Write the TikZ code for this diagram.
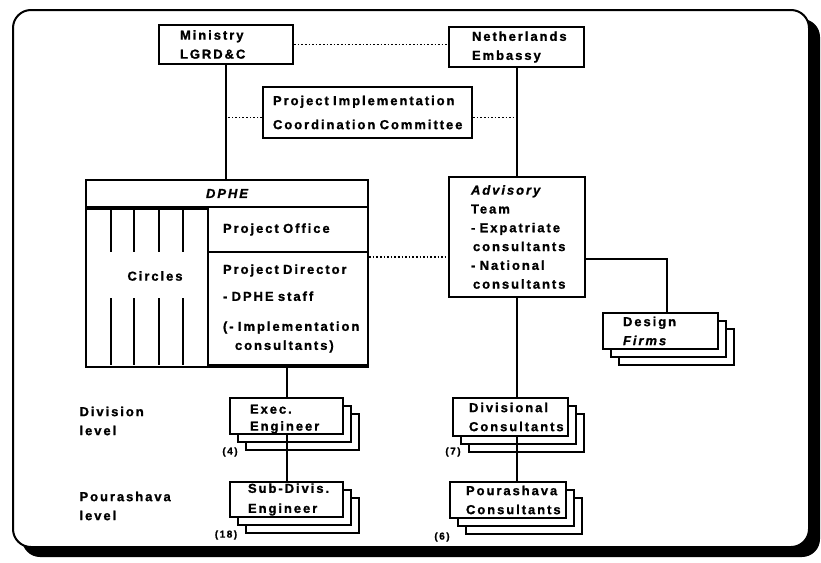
\documentclass[tikz,border=0pt]{standalone}
\usepackage{fontspec}
\setmainfont{Liberation Sans}[LetterSpace=15, BoldFeatures={FakeBold=1.2}, BoldItalicFeatures={FakeBold=1.2}]
\usetikzlibrary{shadows}

\begin{document}
\begin{tikzpicture}[
    x=1pt, y=-1pt,
    every node/.style={
        font=\fontsize{13}{19}\selectfont\bfseries
    },
    box/.style={
        draw,
        fill=white,
        line width=2.2pt,
        align=left,
        inner ysep=0pt
    },
    stack/.style={
        box,
        double copy shadow={shadow xshift=8pt, shadow yshift=-8pt, line width=2.2pt}
    },
    link/.style={
        line width=2pt
    },
    dotlink/.style={
        line width=1.6pt,
        dash pattern=on 1.6pt off 2pt
    },
    strip/.style={
        line width=1.8pt
    },
    count/.style={
        font=\fontsize{10}{12}\selectfont\bfseries
    }
]
\useasboundingbox (0,0) rectangle (821,562);

% outer frame
\fill[rounded corners=18pt] (22,19) rectangle (820,557);
\draw[fill=white, line width=2pt, rounded corners=18pt] (13,10) rectangle (809,547);

% top level
\node[box, minimum height=39pt, text width=92pt, inner xsep=21pt] (min) at (226,44.5) {Ministry\\LGRD\&C};
\node[box, minimum height=40pt, text width=89pt, inner xsep=23pt] (emb) at (516.5,47) {Netherlands\\Embassy};
\node[box, minimum height=51pt, text width=199pt, inner xsep=5pt,
      font=\fontsize{13}{24}\selectfont\bfseries] (pic) at (367.5,112.5)
    {\hspace*{5pt}Project~Implementation\\\hspace*{5pt}Coordination~Committee};

% DPHE
\node[box, minimum width=282pt, minimum height=27pt, font=\fontsize{13}{19}\selectfont\bfseries\itshape] (dphe) at (227,193.5) {DPHE};
\node[box, anchor=north, minimum width=282pt, minimum height=158pt] (body) at (dphe.south) {};
\node[box, minimum height=45pt, text width=130pt, inner xsep=15pt] (office) at (288,229.5) {Project~Office};
\node[box, minimum height=113pt, text width=130pt, inner xsep=15pt] (director) at (288,308.5)
    {Project~Director\\[8pt]-~DPHE~staff\\[11pt](-~Implementation\\\hspace*{12pt}consultants)};
\node (circ) at (155,276) {Circles};
\foreach \x in {111,134,159,183}
    \draw[strip] (\x,207) -- (\x,252) (\x,298) -- (\x,365);

% advisory team
\node[box, minimum height=120pt, text width=92pt, inner xsep=22pt,
      font=\fontsize{13}{18.8}\selectfont\bfseries] (adv) at (517,237)
    {\textit{Advisory}\\Team\\-~Expatriate\\\hspace*{2pt}consultants\\-~National\\\hspace*{2pt}consultants};
\node[stack, minimum height=36pt, text width=75pt, inner xsep=20pt] (des) at (660.5,331) {Design\\\textit{Firms}};

% division and pourashava level
\node[anchor=west, align=left] (divlev) at (76,421) {Division\\level};
\node[anchor=west, align=left] (poulev) at (76,506) {Pourashava\\level};

\node[stack, minimum height=36pt, text width=73pt, inner xsep=20pt,
      font=\fontsize{13}{17}\selectfont\bfseries] (exec) at (286.5,416) {\rule{0pt}{15pt}Exec.\\Engineer};
\node[stack, minimum height=35pt, text width=95pt, inner xsep=9pt,
      font=\fontsize{13}{20}\selectfont\bfseries] (sub) at (286.5,499.5) {\hspace*{9pt}\mbox{Sub-Divis.}\\\hspace*{9pt}Engineer};
\node[stack, minimum height=38pt, text width=99pt, inner xsep=8pt] (div) at (510.5,417)
    {\hspace*{8pt}Divisional\\\hspace*{8pt}Consultants};
\node[stack, minimum height=36pt, text width=100pt, inner xsep=8pt] (pou) at (508,500)
    {\hspace*{8pt}Pourashava\\\hspace*{8pt}Consultants};

\node[count] (n4) at (230,452) {(4)};
\node[count] (n18) at (226,535) {(18)};
\node[count] (n7) at (453,452) {(7)};
\node[count] (n6) at (442,537) {(6)};

% solid links
\draw[link] (min) -- (min |- dphe.north);
\draw[link] (emb) -- (emb |- adv.north);
\draw[link] (exec.north |- body.south) -- (exec.north);
\draw[link] (exec.south) -- (sub.north);
\draw[link] (adv.south) -- (adv.south |- div.north);
\draw[link] (adv.south |- div.south) -- (adv.south |- pou.north);
\draw[link] ([yshift=-22pt]adv.east) -| ([xshift=6.5pt]des.north);

% dotted links
\draw[dotlink] (min.east) -- (min.east -| emb.west);
\draw[dotlink] ([yshift=-5pt]pic.west) -- ([yshift=-5pt]pic.west -| min.south);
\draw[dotlink] ([yshift=-5pt]pic.east) -- ([yshift=-5pt]pic.east -| emb.south);
\draw[dotlink] ([yshift=-6pt]director.north east) -- ([yshift=-6pt]director.north east -| adv.west);

\end{tikzpicture}
\end{document}
